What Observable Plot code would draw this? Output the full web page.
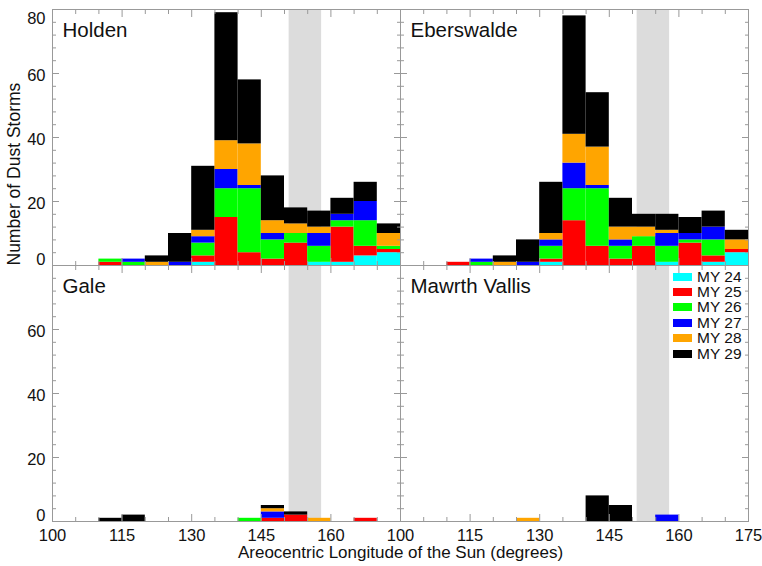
<!DOCTYPE html>
<html><head><meta charset="utf-8">
<script src="https://cdn.jsdelivr.net/npm/d3@7"></script>
<script src="https://cdn.jsdelivr.net/npm/@observablehq/plot@0.6"></script>
<style>
body{margin:0;background:#fff;font-family:"Liberation Sans",Arial,Helvetica,sans-serif;}
#chart{position:relative;width:762px;height:566px;overflow:hidden;}
#legend{position:absolute;left:673px;top:269px;}
.lg-swatches{font-family:"Liberation Sans",Arial,sans-serif !important;font-size:15.5px !important;color:#111 !important;margin:0 !important;min-height:0 !important;}
.lg-swatch{height:15.4px !important;padding:0 !important;margin:0 !important;display:flex !important;align-items:center !important;}
.lg-swatch svg{margin-right:5px !important;}
</style></head><body><div id="chart"><div id="legend"></div></div>
<script>
// Ls bins (start of each 5-degree bin)
const binStarts = [110,115,120,125,130,135,140,145,150,155,160,165,170];
const binWidth = 5;
const years = ["MY 24","MY 25","MY 26","MY 27","MY 28","MY 29"];
const yearColors = ["#00ffff","#ff0000","#00ff00","#0000ff","#ffa500","#000000"];
const sites = ["Holden","Eberswalde","Gale","Mawrth Vallis"];
const siteCols = ["L","R","L","R"];
const siteRows = ["T","T","B","B"];

// counts per year (rows MY24..MY29) per bin
const holden = [
  [0,0,0,0,1,0,0,0,0,1,1,3,4],
  [1,0,0,0,2,15,4,2,7,0,11,3,1],
  [1,1,0,0,4,9,20,6,3,5,2,8,1],
  [0,1,0,1,2,6,1,2,0,4,2,6,0],
  [0,0,1,0,2,9,13,4,3,2,0,0,4],
  [0,0,2,9,20,40,20,14,5,5,5,6,3]
];
const eberswalde = [
  [0,0,0,0,1,0,0,0,0,1,0,1,4],
  [1,0,0,0,1,14,6,2,6,0,7,2,1],
  [0,1,0,0,4,10,18,4,3,5,1,5,0],
  [0,1,0,1,2,8,1,2,0,4,2,4,0],
  [0,0,1,0,2,9,12,4,3,1,0,0,3],
  [0,0,2,7,16,37,17,9,4,5,5,5,3]
];
const gale = [
  [0,0,0,0,0,0,0,0,0,0,0,0,0],
  [0,0,0,0,0,0,0,1,2,0,0,1,0],
  [0,0,0,0,0,0,1,0,0,0,0,0,0],
  [0,0,0,0,0,0,0,2,0,0,0,0,0],
  [0,0,0,0,0,0,0,1,0,1,0,0,0],
  [1,2,0,0,0,0,0,1,1,0,0,0,0]
];
const mawrth = [
  [0,0,0,0,0,0,0,0,0,0,0,0,0],
  [0,0,0,0,0,0,0,0,0,0,0,0,0],
  [0,0,0,0,0,0,0,0,0,0,0,0,0],
  [0,0,0,0,0,0,0,0,0,2,0,0,0],
  [0,0,0,1,0,0,0,0,0,0,0,0,0],
  [0,0,0,0,0,0,8,5,0,0,0,0,0]
];
const glintBand = [151, 158];
const xMajor = [100,115,130,145,160,175];
const xMinor = [105,110,120,125,135,140,150,155,165,170];
const yMajor = [0,20,40,60,80];
const yMinor = [4,8,12,16,24,28,32,36,44,48,52,56,64,68,72,76];
const xLabelsLeft = [100,115,130,145,160];
const xLabelsRight = [100,115,130,145,160,175];
const yLabelsTop = [0,20,40,60,80];
const yLabelsBottom = [0,20,40,60];
const xTitle = "Areocentric Longitude of the Sun (degrees)";
const yTitle = "Number of Dust Storms";

const siteCounts = [holden, eberswalde, gale, mawrth];
const bars = [];
sites.forEach((s, si) => siteCounts[si].forEach((arr, yi) => arr.forEach((c, bi) => {
  if (c > 0) bars.push({site: s, col: siteCols[si], row: siteRows[si], year: years[yi],
    x1: binStarts[bi], x2: binStarts[bi] + binWidth, count: c});
})));
const panels = sites.map((s, i) => ({site: s, col: siteCols[i], row: siteRows[i]}));
const xLab = [...xLabelsLeft.map(v => ({v, col: "L", row: "B"})), ...xLabelsRight.map(v => ({v, col: "R", row: "B"}))];
const yLab = [...yLabelsTop.map(v => ({v, col: "L", row: "T"})), ...yLabelsBottom.map(v => ({v, col: "L", row: "B"}))];

const font = "Liberation Sans, Arial, Helvetica, sans-serif";
const tickStroke = "#999";
const tick = (fn, data, anchor, size) => fn(data, {anchor, tickSize: -size, fill: "none", stroke: tickStroke, label: null, facetAnchor: null});

const plot = Plot.plot({
  width: 762, height: 566,
  marginLeft: 52, marginRight: 14, marginTop: 8, marginBottom: 45,
  style: {fontFamily: font, background: "white", color: "#111"},
  x: {domain: [100, 175], axis: null},
  y: {domain: [0, 80], axis: null},
  fx: {domain: ["L", "R"], padding: 0, axis: null},
  fy: {domain: ["T", "B"], padding: 0, axis: null},
  color: {domain: years, range: yearColors},
  marks: [
    Plot.rect([glintBand], {x1: d => d[0], x2: d => d[1], fill: "#dcdcdc"}),
    Plot.rectY(bars, {x1: "x1", x2: "x2", y: "count", fill: "year", fx: "col", fy: "row", order: years}),
    Plot.frame({stroke: tickStroke}),
    tick(Plot.axisX, xMajor, "bottom", 7), tick(Plot.axisX, xMajor, "top", 7),
    tick(Plot.axisX, xMinor, "bottom", 4), tick(Plot.axisX, xMinor, "top", 4),
    tick(Plot.axisY, yMajor, "left", 7), tick(Plot.axisY, yMajor, "right", 7),
    tick(Plot.axisY, yMinor, "left", 4), tick(Plot.axisY, yMinor, "right", 4),
    Plot.text(xLab, {x: "v", text: d => String(d.v), fx: "col", fy: "row", frameAnchor: "bottom", dy: 19, fontSize: 16.5, fill: "#111"}),
    Plot.text(yLab.filter(d => d.v > 0 && d.v < 80), {y: "v", text: d => String(d.v), fx: "col", fy: "row", frameAnchor: "left", textAnchor: "end", dx: -7, dy: 2, fontSize: 16.5, fill: "#111"}),
    Plot.text(yLab.filter(d => d.v === 0), {y: "v", text: d => String(d.v), fx: "col", fy: "row", frameAnchor: "left", textAnchor: "end", dx: -7, dy: -6, fontSize: 16.5, fill: "#111"}),
    Plot.text(yLab.filter(d => d.v === 80), {y: "v", text: d => String(d.v), fx: "col", fy: "row", frameAnchor: "left", textAnchor: "end", dx: -7, dy: 9, fontSize: 16.5, fill: "#111"}),
    Plot.text(panels, {text: "site", fx: "col", fy: "row", frameAnchor: "top-left", textAnchor: "start", lineAnchor: "top", dx: 10, dy: 13, fontSize: 20.5, fill: "#111"}),
    Plot.text([xTitle], {text: d => d, frameAnchor: "bottom", dy: 36, fontSize: 17, fill: "#111", facet: "super"}),
    Plot.text([yTitle], {text: d => d, frameAnchor: "left", rotate: -90, dx: -38, fontSize: 17.5, fill: "#111", facet: "super"})
  ]
});
document.getElementById("chart").prepend(plot);

const legend = Plot.legend({
  color: {type: "ordinal", domain: years, range: yearColors},
  columns: 1, swatchWidth: 19, swatchHeight: 8, className: "lg"
});
document.getElementById("legend").appendChild(legend);
</script></body></html>
